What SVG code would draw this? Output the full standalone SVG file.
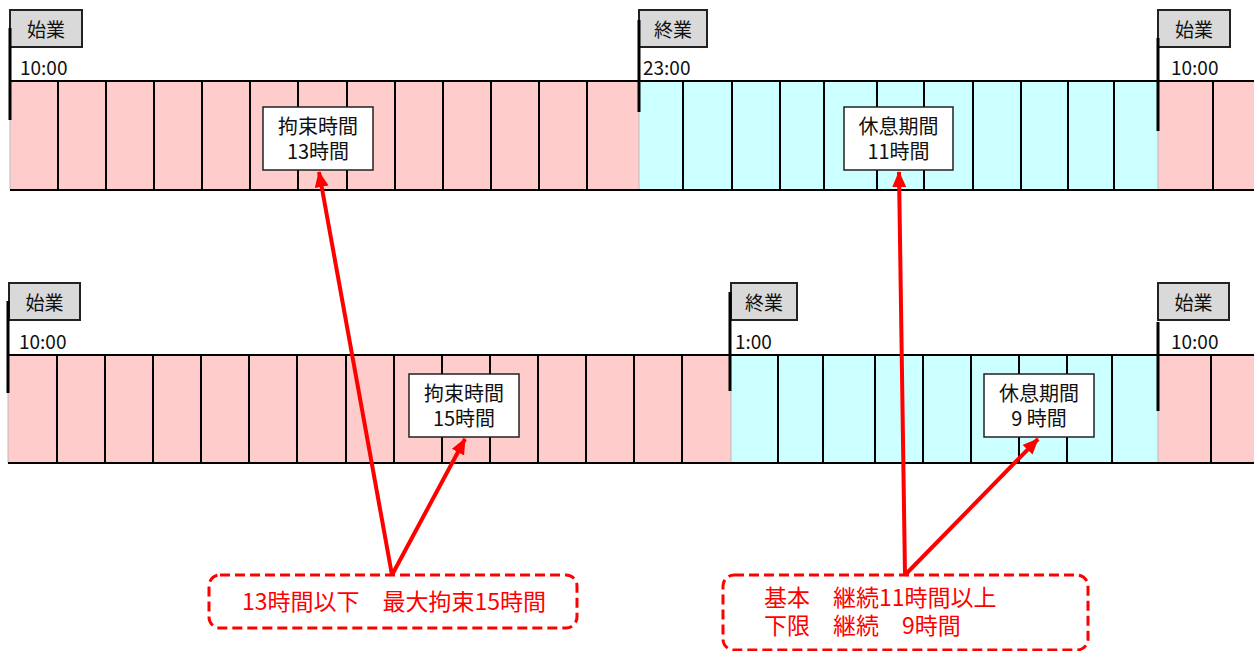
<svg xmlns="http://www.w3.org/2000/svg" width="1254" height="651" viewBox="0 0 1254 651">
<defs>
<style>
.pink{fill:#ffcccc}
.cyan{fill:#ccffff}
.grid{stroke:#000;stroke-width:2;fill:none}
.edge{stroke:#bbb;stroke-width:1;fill:none}
.pole{stroke:#000;stroke-width:3;fill:none}
.flag{fill:#d9d9d9;stroke:#222;stroke-width:2}
.lbl{fill:#fff;stroke:#222;stroke-width:1.5}
text{font-family:"Noto Sans CJK JP","Noto Sans",sans-serif;fill:#111}
.ft{font-size:19px;text-anchor:middle;dominant-baseline:central}
.tm{font-size:19px}
.bt{font-size:20px;text-anchor:middle;dominant-baseline:central}
.call{fill:none;stroke:#ff0000;stroke-width:3;stroke-dasharray:10 5}
.ct{font-size:23px;fill:#ff0000}
.arr{stroke:#ff0000;stroke-width:4;fill:none;marker-end:url(#ah)}
</style>
<marker id="ah" markerUnits="userSpaceOnUse" markerWidth="16" markerHeight="14" refX="15" refY="7" orient="auto">
<path d="M0,0 L16,7 L0,14 Z" fill="#ff0000"/>
</marker>
</defs>

<g id="timeline-top">
<rect class="pink" x="10" y="81" width="629" height="109"/>
<rect class="cyan" x="639" y="81" width="519" height="109"/>
<rect class="pink" x="1158" y="81" width="96" height="109"/>
<path class="edge" d="M10,81 V190 M639,112 V190 M1158,131 V190"/>
<path class="grid" d="M58,81V190 M106,81V190 M154,81V190 M202,81V190 M250,81V190 M298,81V190 M347,81V190 M395,81V190 M443,81V190 M491,81V190 M539,81V190 M587,81V190 M683,81V190 M732,81V190 M780,81V190 M824,81V190 M877,81V190 M924,81V190 M973,81V190 M1021,81V190 M1068,81V190 M1114,81V190 M1213,81V190"/>
<path class="grid" d="M10,81H1254 M10,190H1254"/>
</g>

<g id="timeline-bottom">
<rect class="pink" x="8" y="355" width="723" height="108"/>
<rect class="cyan" x="731" y="355" width="427" height="108"/>
<rect class="pink" x="1158" y="355" width="96" height="108"/>
<path class="edge" d="M8,355 V463 M731,391 V463 M1158,411 V463"/>
<path class="grid" d="M57,355V463 M105,355V463 M153,355V463 M201,355V463 M249,355V463 M297,355V463 M346,355V463 M394,355V463 M442,355V463 M490,355V463 M538,355V463 M586,355V463 M634,355V463 M682,355V463 M778,355V463 M823,355V463 M875,355V463 M923,355V463 M971,355V463 M1019,355V463 M1067,355V463 M1112,355V463 M1211,355V463"/>
<path class="grid" d="M8,355H1254 M8,463H1254"/>
</g>

<g id="flag-top-start1">
<rect class="flag" x="10" y="10" width="72" height="37"/>
<line class="pole" x1="10" y1="28" x2="10" y2="120"/>
<text class="ft" x="46" y="28">始業</text>
<text class="tm" x="20" y="75">10:00</text>
</g>
<g id="flag-top-end">
<rect class="flag" x="639" y="10" width="68" height="37"/>
<line class="pole" x1="639" y1="20" x2="639" y2="112"/>
<text class="ft" x="673" y="28">終業</text>
<text class="tm" x="643" y="75">23:00</text>
</g>
<g id="flag-top-start2">
<rect class="flag" x="1158" y="10" width="72" height="37"/>
<line class="pole" x1="1158" y1="38" x2="1158" y2="131"/>
<text class="ft" x="1194" y="28">始業</text>
<text class="tm" x="1171" y="75">10:00</text>
</g>

<g id="flag-bottom-start1">
<rect class="flag" x="9" y="283" width="71" height="37"/>
<line class="pole" x1="8" y1="301" x2="8" y2="393"/>
<text class="ft" x="44.5" y="301">始業</text>
<text class="tm" x="19" y="349">10:00</text>
</g>
<g id="flag-bottom-end">
<rect class="flag" x="731" y="283" width="66" height="37"/>
<line class="pole" x1="730" y1="292" x2="730" y2="391"/>
<text class="ft" x="764" y="301">終業</text>
<text class="tm" x="735" y="349">1:00</text>
</g>
<g id="flag-bottom-start2">
<rect class="flag" x="1158" y="283" width="71" height="37"/>
<line class="pole" x1="1158" y1="322" x2="1158" y2="411"/>
<text class="ft" x="1193.5" y="301">始業</text>
<text class="tm" x="1171" y="349">10:00</text>
</g>

<g id="label-kosoku13">
<rect class="lbl" x="263" y="107" width="110" height="63"/>
<text class="bt" x="318" y="125">拘束時間</text>
<text class="bt" x="318" y="150">13時間</text>
</g>
<g id="label-kyusoku11">
<rect class="lbl" x="844" y="107" width="109" height="63"/>
<text class="bt" x="898.5" y="125">休息期間</text>
<text class="bt" x="898.5" y="150">11時間</text>
</g>
<g id="label-kosoku15">
<rect class="lbl" x="409" y="374" width="110" height="63"/>
<text class="bt" x="464" y="392">拘束時間</text>
<text class="bt" x="464" y="417">15時間</text>
</g>
<g id="label-kyusoku9">
<rect class="lbl" x="984" y="374" width="110" height="63"/>
<text class="bt" x="1039" y="392">休息期間</text>
<text class="bt" x="1039" y="417">9 時間</text>
</g>

<g id="connectors">
<line class="arr" x1="392" y1="575" x2="319" y2="172"/>
<line class="arr" x1="392" y1="575" x2="465" y2="439"/>
<line class="arr" x1="905" y1="575" x2="899" y2="172"/>
<line class="arr" x1="905" y1="575" x2="1038" y2="439"/>
</g>

<g id="callout-left">
<rect class="call" x="209" y="575" width="368" height="53" rx="11"/>
<text class="ct" x="242" y="610">13時間以下　最大拘束15時間</text>
</g>
<g id="callout-right">
<rect class="call" x="723" y="575" width="365" height="75" rx="11"/>
<text class="ct" x="764" y="606">基本　継続11時間以上</text>
<text class="ct" x="764" y="634">下限　継続　9時間</text>
</g>
</svg>
